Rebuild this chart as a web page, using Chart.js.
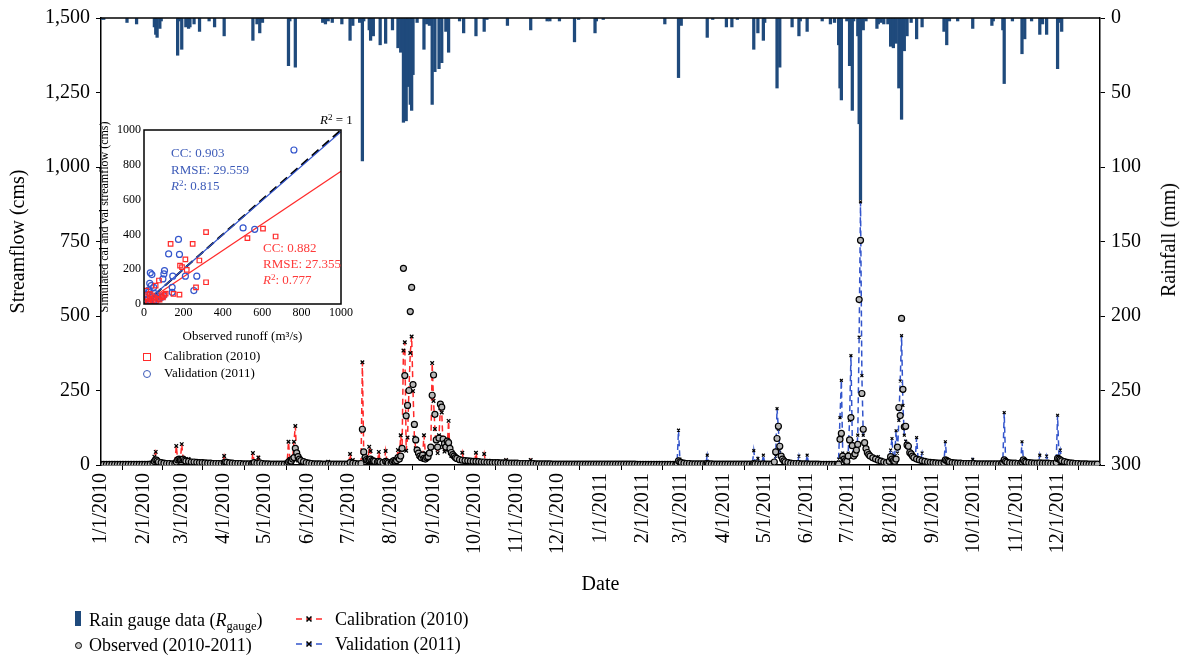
<!DOCTYPE html>
<html><head><meta charset="utf-8">
<script src="https://cdn.jsdelivr.net/npm/chart.js@4.4.1/dist/chart.umd.min.js"></script>
<style>
body{margin:0;background:#fff;}
#wrap{position:relative;width:1183px;height:656px;font-family:"Liberation Serif","Times New Roman",serif;color:#000;overflow:hidden;}
canvas{position:absolute;left:0;top:0;}
.t{position:absolute;white-space:nowrap;line-height:1;}
.lg{font-size:18px;}
.ins{font-size:13px;}
.blue{color:#3d5bb8;}
.red{color:#ff3a3a;}
sub{font-size:70%;vertical-align:-0.3em;line-height:0;}
sup{font-size:70%;vertical-align:0.45em;line-height:0;}
</style></head><body>
<div id="wrap">
<canvas id="main" width="1183" height="656"></canvas>
<canvas id="inset" width="260" height="240" style="left:95px;top:110px"></canvas>

<div class="t" style="left:1168px;top:240px;font-size:20px;transform:translate(-50%,-50%) rotate(-90deg);">Rainfall (mm)</div>

<div class="t ins" style="left:320px;top:113px;"><i>R</i><sup>2</sup> = 1</div>
<div class="t ins blue" style="left:171px;top:146px;">CC: 0.903</div>
<div class="t ins blue" style="left:171px;top:163px;">RMSE: 29.559</div>
<div class="t ins blue" style="left:171px;top:179px;"><i>R</i><sup>2</sup>: 0.815</div>
<div class="t ins red" style="left:263px;top:241px;">CC: 0.882</div>
<div class="t ins red" style="left:263px;top:257px;">RMSE: 27.355</div>
<div class="t ins red" style="left:263px;top:273px;"><i>R</i><sup>2</sup>: 0.777</div>

<div style="position:absolute;left:143px;top:353px;width:6px;height:6px;border:1.3px solid #ff2a2a;"></div>
<div class="t" style="left:164px;top:349px;font-size:13px;">Calibration (2010)</div>
<div style="position:absolute;left:143px;top:370px;width:6px;height:6px;border:1.3px solid #3d5bb8;border-radius:50%;"></div>
<div class="t" style="left:164px;top:366px;font-size:13px;">Validation (2011)</div>

<div style="position:absolute;left:75px;top:611px;width:6px;height:15px;background:#1f4a7c;"></div>
<div class="t lg" style="left:89px;top:611px;">Rain gauge data (<i>R</i><sub>gauge</sub>)</div>
<div style="position:absolute;left:75px;top:642px;width:5px;height:5px;border:1.2px solid #000;border-radius:50%;background:#ccc;"></div>
<div class="t lg" style="left:89px;top:636px;">Observed (2010-2011)</div>

<svg style="position:absolute;left:295px;top:612px" width="30" height="40">
<line x1="1" y1="7" x2="29" y2="7" stroke="#ff2a2a" stroke-width="1.5" stroke-dasharray="6,4"/>
<path d="M11.5 4.5 L16.5 9.5 M16.5 4.5 L11.5 9.5" stroke="#000" stroke-width="1.6"/>
<line x1="1" y1="32" x2="29" y2="32" stroke="#3355cc" stroke-width="1.5" stroke-dasharray="6,4"/>
<path d="M11.5 29.5 L16.5 34.5 M16.5 29.5 L11.5 34.5" stroke="#000" stroke-width="1.6"/>
</svg>
<div class="t lg" style="left:335px;top:610px;">Calibration (2010)</div>
<div class="t lg" style="left:335px;top:635px;">Validation (2011)</div>
</div>

<script>
// ---------- DATA ----------
const monthTicks = [0,31,59,90,120,151,181,212,243,273,304,334,365,396,424,455,485,516,546,577,608,638,669,699];
const monthLabels = ['1/1/2010','2/1/2010','3/1/2010','4/1/2010','5/1/2010','6/1/2010','7/1/2010','8/1/2010','9/1/2010','10/1/2010','11/1/2010','12/1/2010',
  '1/1/2011','2/1/2011','3/1/2011','4/1/2011','5/1/2011','6/1/2011','7/1/2011','8/1/2011','9/1/2011','10/1/2011','11/1/2011','12/1/2011'];

// rainfall [day index from 1/1/2010, mm]
const rainfall = [[0,1],[2,1],[19,3],[26,4],[39,6],[40,11],[41,13],[43,7],[44,2],[56,25],[57,2],[59,21],[62,6],[64,7],[65,6],[68,4],[72,9],[79,2],[83,6],[90,12],
[111,15],[114,4],[116,10],[118,3],[137,32],[138,2],[142,33],[162,3],[164,4],[166,2],[169,3],[176,4],[182,15],[184,5],[189,3],[191,96],[192,2],[196,8],[197,15],[199,12],
[204,18],[208,17],[213,8],[217,20],[219,23],[221,70],[223,69],[224,46],[226,58],[227,62],[228,38],[231,3],[236,21],[238,4],[240,5],[242,58],[244,36],[247,34],[249,30],[252,9],
[254,23],[262,2],[265,10],[274,12],[280,9],[282,1],[297,5],[314,8],[326,2],[328,2],[335,2],[346,16],[349,1],[361,10],[362,2],[367,1],
[412,4],[422,40],[424,5],[443,13],[447,1],[457,6],[461,6],[465,1],[477,21],[480,10],[484,15],[485,3],[494,47],[496,33],[505,6],[510,12],[511,2],[516,9],[527,2],[533,4],
[536,3],[539,18],[540,47],[541,55],[545,2],[547,32],[549,62],[550,2],[553,12],[554,71],[555,122],[557,8],[559,2],[567,7],[568,4],[570,3],[572,4],[575,4],[577,19],[579,20],
[581,17],[583,47],[585,68],[587,22],[589,12],[592,3],[596,14],[600,6],[616,9],[618,18],[620,2],[626,2],[637,7],[651,5],[652,2],[659,8],[660,44],[666,2],[673,24],[675,14],
[680,2],[686,11],[688,4],[691,11],[699,34],[700,3],[702,9]];

// observed streamflow [day, cms]
const observed = [[0,2],[2,2],[4,2],[6,2],[8,2],[10,2],[12,2],[14,2],[16,2],[18,2],[20,2],[22,2],[24,2],[26,2],[28,2],[30,2],[32,2],[34,2],[36,3],[38,5],[39,12],[40,17],[41,14],[42,10],
[44,8],[46,6],[48,5],[50,5],[52,4],[54,5],[55,10],[56,17],[57,20],[58,18],[59,18],[60,20],[61,16],[62,13],[64,12],[66,10],[68,10],[70,9],[72,8],[74,8],[76,7],[78,6],[80,6],[82,5],
[84,5],[86,5],[88,5],[90,8],[91,10],[92,9],[94,7],[96,6],[98,5],[100,5],[102,5],[104,4],[106,4],[108,4],[110,4],[111,6],[112,8],[114,6],[116,7],[118,5],[120,4],[122,4],[124,3],
[126,3],[128,3],[130,3],[132,3],[134,3],[136,5],[137,10],[138,14],[139,13],[140,20],[141,25],[142,56],[143,41],[144,28],[145,20],[146,15],[148,11],[150,8],[152,6],[154,5],[156,4],
[158,4],[160,4],[162,3],[164,3],[166,4],[168,3],[170,3],[172,3],[174,3],[176,3],[178,3],[180,3],[182,8],[184,6],[186,5],[188,4],[190,5],[191,120],[192,44],[193,25],[194,18],
[195,15],[196,17],[197,20],[198,15],[199,14],[200,12],[202,10],[203,12],[204,10],[206,8],[208,12],[209,10],[210,7],[212,6],[213,11],[214,15],[215,12],[216,15],[217,25],[218,20],
[219,30],[220,56],[221,660],[222,300],[223,165],[224,200],[225,250],[226,515],[227,596],[228,270],[229,136],[230,84],[231,50],[232,40],[233,30],[234,25],[235,33],[236,22],[237,20],
[238,25],[239,28],[240,40],[241,60],[242,234],[243,302],[244,170],[245,84],[246,60],[247,90],[248,204],[249,194],[250,87],[251,72],[252,60],[253,80],[254,75],[255,56],[256,42],
[257,35],[258,30],[259,25],[260,22],[262,18],[264,16],[266,15],[268,14],[270,13],[272,12],[274,12],[276,11],[278,10],[280,10],[282,9],[284,9],[286,8],[288,8],[290,8],[292,7],
[294,7],[296,7],[298,6],[300,6],[302,6],[304,6],[306,5],[308,5],[310,5],[312,5],[314,5],[316,5],[318,4],[320,4],[322,4],[324,4],[326,4],[328,4],[330,3],[332,3],[334,3],[336,3],
[338,3],[340,3],[342,3],[344,3],[346,3],[348,3],[350,3],[352,3],[354,3],[356,3],[358,3],[360,3],[362,3],[364,3],
[366,3],[368,3],[370,3],[372,3],[374,3],[376,3],[378,3],[380,3],[382,3],[384,3],[386,3],[388,3],[390,3],[392,2],[394,2],[396,2],[398,2],[400,2],[402,2],[404,2],[406,2],[408,2],
[410,2],[412,2],[414,2],[416,2],[418,2],[420,2],[421,5],[422,14],[423,10],[424,8],[426,6],[428,5],[430,5],[432,4],[434,4],[436,4],[438,4],[440,4],[442,4],[443,5],[444,4],[446,4],
[448,3],[450,3],[452,3],[454,3],[456,3],[458,3],[460,3],[462,3],[464,3],[466,3],[468,3],[470,3],[472,3],[474,3],[476,3],[477,5],[478,4],[480,4],[482,3],[484,4],[486,3],[488,3],
[490,3],[492,10],[493,44],[494,89],[495,130],[496,63],[497,30],[498,20],[499,14],[500,10],[502,8],[504,6],[506,5],[508,5],[510,5],[512,4],[514,4],[516,4],[518,3],[520,3],[522,3],
[524,3],[526,2],[528,2],[530,2],[532,2],[534,2],[536,2],[538,2],[539,3],[540,86],[541,106],[542,30],[543,20],[544,15],[545,12],[546,30],[547,84],[548,159],[549,65],[550,30],
[551,37],[552,50],[553,69],[554,555],[555,754],[556,240],[557,120],[558,75],[559,55],[560,42],[561,35],[562,30],[564,24],[566,20],[568,16],[570,13],[572,10],[574,8],[576,12],
[577,28],[578,20],[579,15],[580,12],[581,20],[582,60],[583,193],[584,166],[585,492],[586,254],[587,128],[588,130],[589,67],[590,63],[591,42],[592,37],[593,30],[594,25],[596,20],
[598,17],[600,14],[602,12],[604,10],[606,9],[608,8],[610,7],[612,6],[614,6],[616,8],[617,17],[618,15],[619,12],[620,10],[622,8],[624,7],[626,6],[628,6],[630,5],[632,5],[634,5],
[636,5],[638,5],[640,4],[642,4],[644,4],[646,4],[648,4],[650,4],[652,4],[654,4],[656,4],[658,4],[659,8],[660,17],[661,12],[662,9],[664,7],[666,6],[668,6],[670,5],[672,5],[673,10],
[674,17],[675,12],[676,9],[678,8],[680,7],[682,6],[684,6],[686,7],[688,6],[690,6],[692,6],[694,5],[696,5],[698,8],[699,22],[700,20],[701,17],[702,14],[704,11],[706,9],[708,7],
[710,6],[712,5],[714,5],[716,4],[718,4],[720,4],[722,3],[724,3],[726,3],[728,3]];

// simulated, calibration period 2010 [day, cms]
const calibration = [[0,2],[4,2],[8,2],[12,2],[16,2],[20,2],[24,2],[28,2],[32,2],[36,3],[38,10],[39,28],[40,44],[41,20],[42,10],[44,8],[46,6],[48,5],[50,5],[52,5],[54,8],[55,64],
[56,20],[57,15],[58,18],[59,70],[60,22],[62,15],[64,20],[65,12],[66,10],[68,10],[70,9],[74,8],[78,6],[82,5],[86,5],[89,6],[90,30],[91,12],[92,8],[96,6],[100,5],[104,4],[108,4],
[110,5],[111,40],[112,10],[114,8],[115,25],[116,8],[118,5],[122,4],[126,3],[130,3],[134,3],[136,5],[137,78],[138,20],[140,20],[141,78],[142,131],[143,30],[144,15],[146,10],
[150,8],[154,5],[158,4],[162,3],[165,4],[166,11],[167,4],[170,3],[174,3],[178,3],[181,4],[182,37],[183,10],[184,17],[185,6],[188,5],[190,5],[191,345],[192,30],[193,15],[195,10],
[196,61],[197,47],[198,15],[200,10],[202,8],[203,44],[204,12],[206,8],[207,10],[208,47],[209,10],[211,8],[213,10],[215,20],[216,15],[217,50],[218,20],[219,100],[220,52],[221,384],
[222,412],[223,48],[224,92],[225,250],[226,376],[227,431],[228,248],[229,92],[230,56],[231,40],[232,30],[234,35],[235,30],[236,100],[237,40],[238,30],[239,30],[240,40],[241,50],
[242,342],[243,215],[244,121],[245,60],[246,40],[247,100],[248,190],[249,176],[250,60],[251,45],[252,50],[253,60],[254,148],[255,40],[256,30],[258,25],[260,20],[262,18],[263,16],
[264,41],[265,15],[268,14],[270,13],[273,12],[274,41],[275,12],[278,10],[279,10],[280,37],[281,10],[284,9],[288,8],[292,7],[295,7],[296,17],[297,7],[300,6],[304,6],[308,5],
[312,5],[313,5],[314,17],[315,5],[320,4],[324,4],[328,4],[332,3],[336,3],[340,3],[344,3],[348,3],[352,3],[356,3],[360,3],[364,3]];

// simulated, validation period 2011 [day, cms]
const validation = [[365,3],[369,3],[373,3],[377,3],[381,3],[385,3],[389,2],[393,2],[397,2],[401,2],[405,2],[409,2],[413,2],[417,2],[420,2],[421,10],[422,117],[423,20],[424,10],
[426,6],[430,5],[434,4],[438,4],[442,4],[443,33],[444,5],[448,3],[452,3],[456,3],[460,3],[464,3],[468,3],[472,3],[476,3],[477,48],[478,8],[479,4],[480,22],[481,5],[483,4],[484,33],
[485,5],[488,3],[492,5],[493,30],[494,189],[495,120],[496,50],[497,25],[498,18],[500,10],[504,6],[508,5],[509,5],[510,30],[511,6],[514,4],[515,4],[516,33],[517,6],[520,3],[524,3],
[528,3],[532,2],[536,2],[538,3],[539,20],[540,159],[541,284],[542,40],[543,20],[545,15],[546,40],[547,150],[548,367],[549,80],[550,30],[552,40],[553,100],[554,429],[555,883],
[556,300],[557,100],[558,60],[559,45],[560,35],[562,28],[564,22],[566,18],[567,16],[568,28],[569,14],[572,10],[575,9],[576,20],[577,50],[578,89],[579,20],[580,30],[581,115],
[582,40],[583,150],[584,282],[585,434],[586,200],[587,100],[588,80],[589,60],[590,40],[592,30],[594,22],[595,20],[596,92],[597,25],[599,16],[600,40],[601,15],[604,10],[608,8],
[612,6],[615,6],[616,10],[617,78],[618,20],[620,10],[624,7],[628,6],[632,5],[636,5],[637,19],[638,6],[642,5],[646,4],[650,4],[654,4],[658,4],[659,10],[660,176],[661,15],[662,9],
[666,6],[670,5],[672,5],[673,78],[674,20],[676,9],[680,7],[684,6],[685,6],[686,33],[687,8],[690,6],[691,30],[692,8],[696,5],[698,10],[699,167],[700,30],[701,50],[702,15],
[704,11],[708,7],[712,5],[716,4],[720,4],[724,3],[728,3]];

// inset scatter: [observed, simulated]
const calScatter = [[315,413],[135,346],[247,346],[525,379],[604,433],[668,388],[210,256],[183,221],[193,212],[281,250],[217,196],[76,135],[59,106],[315,125],[264,96],
[180,54],[150,58],[104,52],[96,38],[79,25],[20,15],[29,29],[37,10],[45,23],[54,38],[29,58],[12,77],[15,40],[25,5],[60,15],[70,30],[40,50],[90,45],[110,60]];
const valScatter = [[761,885],[503,437],[562,429],[175,371],[125,288],[180,285],[104,192],[101,173],[96,144],[146,160],[210,160],[268,160],[32,179],[40,169],[29,119],[37,106],
[49,96],[25,81],[24,67],[143,96],[143,67],[253,77],[99,48],[88,38],[62,38],[20,29],[28,15],[35,5],[15,55],[50,20],[75,30],[55,60]];
const oneToOne = [[0,0],[1000,1000]];
const valFit = [[0,2],[1000,990]];
const calFit = [[0,4],[1000,763]];

// ---------- CHARTS ----------
Chart.defaults.font.family = '"Liberation Serif","Times New Roman",serif';
Chart.defaults.color = '#000';
const toXY = arr => arr.map(p => ({x:p[0], y:p[1]}));

const topLine = {id:'topLine', afterDraw(c){const {ctx, chartArea:a}=c; ctx.save(); ctx.strokeStyle='#000'; ctx.lineWidth=1.5;
  ctx.beginPath(); ctx.moveTo(a.left, a.top); ctx.lineTo(a.right, a.top); ctx.stroke(); ctx.restore();}};

new Chart(document.getElementById('main'), {
  type:'line',
  data:{datasets:[
    {type:'line', label:'Observed (2010-2011)', data:toXY(observed), yAxisID:'y', showLine:false, order:1,
     pointStyle:'circle', pointRadius:3, pointBorderWidth:1.2, pointBorderColor:'#000', pointBackgroundColor:'#b8b8b8'},
    {type:'line', label:'Calibration (2010)', data:toXY(calibration), yAxisID:'y', order:2, borderColor:'#ff2a2a', borderWidth:1.5,
     borderDash:[6,4], pointStyle:'crossRot', pointRadius:2.5, pointBorderColor:'#000', pointBorderWidth:1.3, tension:0},
    {type:'line', label:'Validation (2011)', data:toXY(validation), yAxisID:'y', order:2, borderColor:'#3355cc', borderWidth:1.5,
     borderDash:[6,4], pointStyle:'crossRot', pointRadius:2, pointBorderColor:'#000', pointBorderWidth:1.2, tension:0},
    {type:'bar', label:'Rain gauge data', data:toXY(rainfall), yAxisID:'y2', order:3, backgroundColor:'#1f4a7c', barThickness:2.6}
  ]},
  options:{
    responsive:false, animation:false, events:[],
    layout:{padding:{left:0, right:0, top:16, bottom:57}},
    plugins:{legend:{display:false}, tooltip:{enabled:false}},
    scales:{
      x:{type:'linear', position:'bottom', min:0, max:730, offset:false,
        afterBuildTicks:s=>{s.ticks = monthTicks.map(v=>({value:v}));},
        afterFit:s=>{s.height = 134;},
        ticks:{autoSkip:false, maxRotation:90, minRotation:90, padding:3, font:{size:20},
          callback:(v)=>{const i = monthTicks.indexOf(v); return i>=0 ? monthLabels[i] : '';}},
        grid:{drawOnChartArea:false, drawTicks:true, tickLength:5, color:'#000', lineWidth:1},
        border:{display:true, color:'#000', width:1.5},
        title:{display:true, text:'Date', font:{size:20}, padding:{top:0,bottom:2}}},
      y:{type:'linear', position:'left', min:0, max:1500,
        afterFit:s=>{s.width = 101;},
        ticks:{stepSize:250, padding:6, font:{size:20}},
        grid:{drawOnChartArea:false, tickLength:5, color:'#000'},
        border:{display:true, color:'#000', width:1.5},
        title:{display:true, text:'Streamflow (cms)', font:{size:20}, padding:{top:7,bottom:0}}},
      y2:{type:'linear', position:'right', min:0, max:300, reverse:true,
        afterFit:s=>{s.width = 83;},
        ticks:{stepSize:50, padding:6, font:{size:20}},
        grid:{drawOnChartArea:false, tickLength:5, color:'#000'},
        border:{display:true, color:'#000', width:1.5}}
    }
  },
  plugins:[topLine]
});

const frame = {id:'frame', afterDraw(c){const {ctx, chartArea:a}=c; ctx.save(); ctx.strokeStyle='#000'; ctx.lineWidth=1.5;
  ctx.strokeRect(a.left, a.top, a.right-a.left, a.bottom-a.top); ctx.restore();}};

new Chart(document.getElementById('inset'), {
  type:'scatter',
  data:{datasets:[
    {label:'1:1', type:'line', data:toXY(oneToOne), borderColor:'#000', borderWidth:2, borderDash:[9,5], pointRadius:0, order:3},
    {label:'val fit', type:'line', data:toXY(valFit), borderColor:'#3355cc', borderWidth:1.2, pointRadius:0, order:2},
    {label:'cal fit', type:'line', data:toXY(calFit), borderColor:'#ff2a2a', borderWidth:1.2, pointRadius:0, order:2},
    {label:'Calibration (2010)', data:toXY(calScatter), pointStyle:'rect', pointRadius:3.2, borderColor:'#ff2a2a', backgroundColor:'rgba(255,255,255,0)', pointBorderWidth:1.2, order:1},
    {label:'Validation (2011)', data:toXY(valScatter), pointStyle:'circle', pointRadius:3, borderColor:'#3355cc', backgroundColor:'rgba(255,255,255,0)', pointBorderWidth:1.2, order:1}
  ]},
  options:{
    responsive:false, animation:false, events:[],
    layout:{padding:{left:0, right:11, top:20, bottom:4}},
    plugins:{legend:{display:false}, tooltip:{enabled:false}},
    scales:{
      x:{type:'linear', min:0, max:1000, afterFit:s=>{s.height = 42;},
        ticks:{stepSize:200, padding:2, font:{size:12}, maxRotation:0, callback:v=>String(v)},
        grid:{display:false, drawTicks:false, tickLength:0}, border:{display:false},
        title:{display:true, text:'Observed runoff (m\u00B3/s)', font:{size:13}, padding:{top:0,bottom:2}}},
      y:{type:'linear', min:0, max:1000, afterFit:s=>{s.width = 49;},
        ticks:{stepSize:200, padding:3, font:{size:12}, callback:v=>String(v)},
        grid:{display:false, drawTicks:false, tickLength:0}, border:{display:false},
        title:{display:true, text:'Simulated cal and val streamflow (cms)', font:{size:12}, padding:{top:3,bottom:0}}}
    }
  },
  plugins:[frame]
});
</script>
</body></html>
